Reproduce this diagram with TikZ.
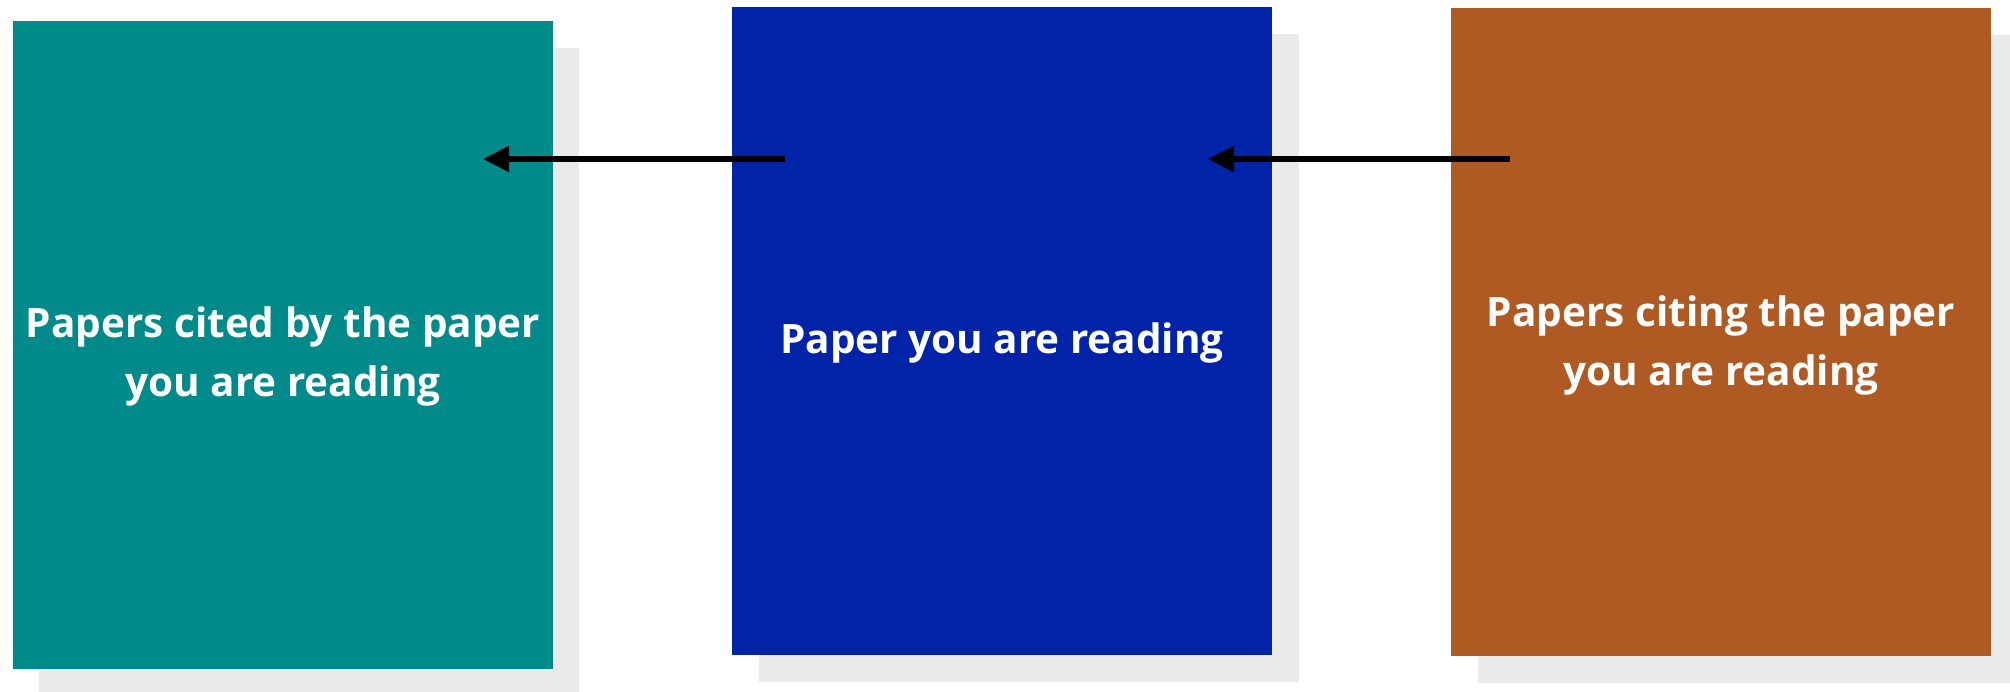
\documentclass[tikz,border=0pt]{standalone}
\usepackage{fontspec}
\setmainfont{Open Sans}
\usetikzlibrary{arrows.meta}
\definecolor{tealc}{RGB}{0,139,138}
\definecolor{bluec}{RGB}{0,35,168}
\definecolor{orangec}{RGB}{176,90,35}
\definecolor{shadowc}{RGB}{234,234,234}
\tikzset{
  card/.style={rectangle, inner sep=0pt, minimum width=540pt, minimum height=648pt, anchor=north west},
  shadowcard/.style={card, fill=shadowc},
  lbl/.style={text=white, font=\fontsize{40.5}{59}\selectfont\bfseries, align=center},
  citearrow/.style={line width=5.5pt, -{Triangle[length=26pt,width=25pt]}}
}
\begin{document}
\begin{tikzpicture}[x=1pt,y=-1pt]
\useasboundingbox (0,0) rectangle (2010,692);
% shadows
\node[shadowcard] (s1) at (39,48) {};
\node[shadowcard] (s2) at (759,34) {};
\node[shadowcard] (s3) at (1478,35) {};
% cards
\node[card, fill=tealc] (b1) at (13,21) {};
\node[card, fill=bluec] (b2) at (732,7) {};
\node[card, fill=orangec] (b3) at (1451,8) {};
% labels
\node[lbl] (t1) at (283,356) {Papers cited by the paper\\you are reading};
\node[lbl] (t2) at (1002,343) {Paper you are reading};
\node[lbl] (t3) at (1721,345) {Papers citing the paper\\you are reading};
% arrows
\coordinate (a1s) at (785,159);
\coordinate (a1e) at (483,159);
\coordinate (a2s) at (1510,159);
\coordinate (a2e) at (1208,159);
\draw[citearrow] (a1s) -- (a1e);
\draw[citearrow] (a2s) -- (a2e);
\end{tikzpicture}
\end{document}
